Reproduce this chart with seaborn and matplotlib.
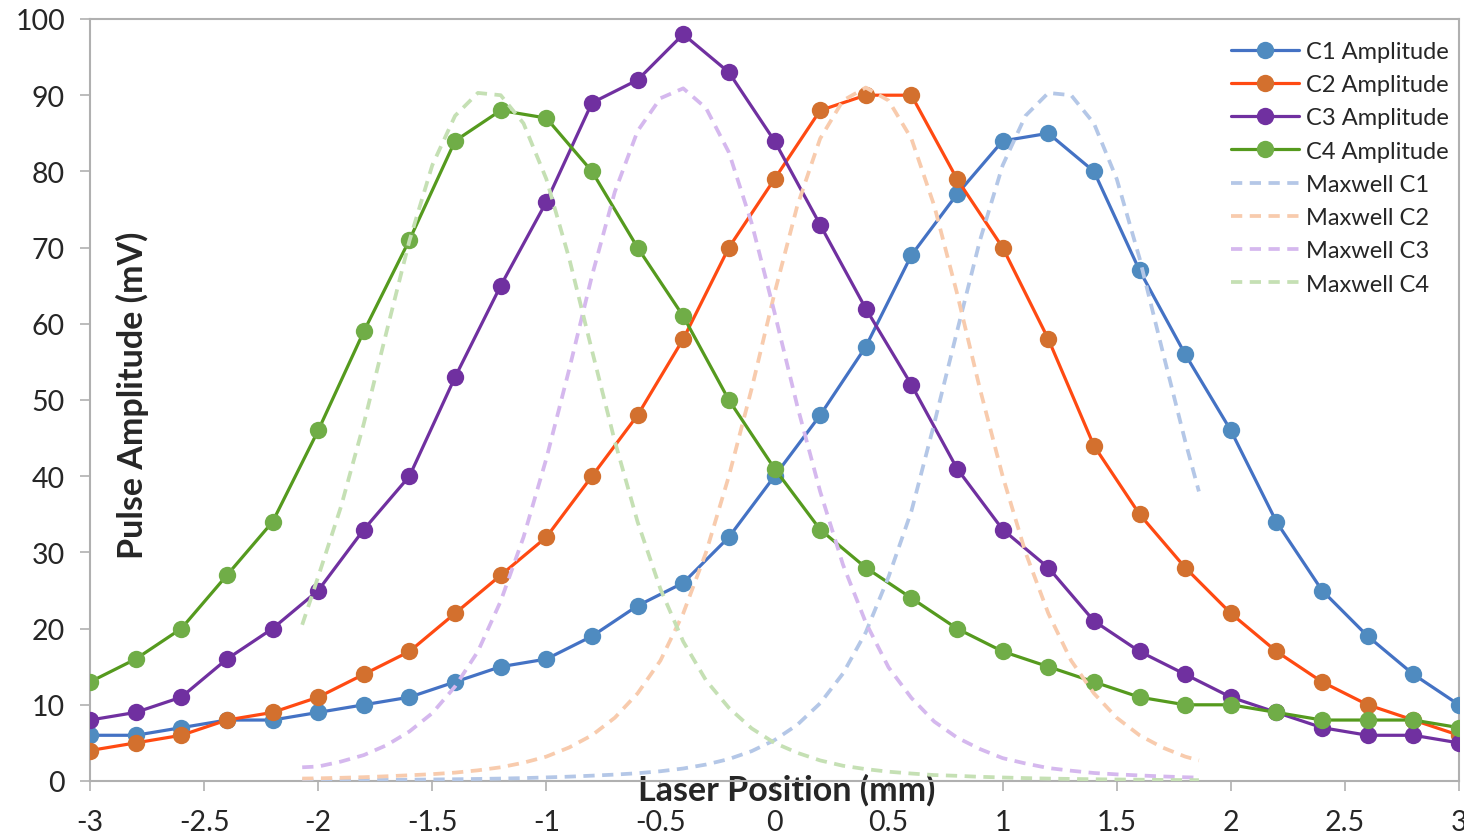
import numpy as np
import pandas as pd
import matplotlib
matplotlib.use('Agg')
import matplotlib.pyplot as plt
import seaborn as sns
from matplotlib.ticker import FuncFormatter, MultipleLocator

sns.set_style('white')
plt.rcParams['font.family'] = ['Lato', 'DejaVu Sans']
plt.rcParams['axes.unicode_minus'] = False

# ---- measured amplitudes, laser position -3..3 mm in 0.2 mm steps ----
pos = [-3.0, -2.8, -2.6, -2.4, -2.2, -2.0, -1.8, -1.6, -1.4, -1.2, -1.0,
       -0.8, -0.6, -0.4, -0.2, 0.0, 0.2, 0.4, 0.6, 0.8, 1.0,
       1.2, 1.4, 1.6, 1.8, 2.0, 2.2, 2.4, 2.6, 2.8, 3.0]
c1_amp = [6, 6, 7, 8, 8, 9, 10, 11, 13, 15, 16, 19, 23, 26, 32, 40,
          48, 57, 69, 77, 84, 85, 80, 67, 56, 46, 34, 25, 19, 14, 10]
c2_amp = [4, 5, 6, 8, 9, 11, 14, 17, 22, 27, 32, 40, 48, 58, 70, 79,
          88, 90, 90, 79, 70, 58, 44, 35, 28, 22, 17, 13, 10, 8, 6]
c3_amp = [8, 9, 11, 16, 20, 25, 33, 40, 53, 65, 76, 89, 92, 98, 93, 84,
          73, 62, 52, 41, 33, 28, 21, 17, 14, 11, 9, 7, 6, 6, 5]
c4_amp = [13, 16, 20, 27, 34, 46, 59, 71, 84, 88, 87, 80, 70, 61, 50, 41,
          33, 28, 24, 20, 17, 15, 13, 11, 10, 10, 9, 8, 8, 8, 7]

# ---- Maxwell model curves ----
mx_pos = [-2.07, -2.0, -1.9, -1.8, -1.7, -1.6, -1.5, -1.4, -1.3, -1.2, -1.1,
          -1.0, -0.9, -0.8, -0.7, -0.6, -0.5, -0.4, -0.3, -0.2, -0.1,
          0.0, 0.1, 0.2, 0.3, 0.4, 0.5, 0.6, 0.7, 0.8, 0.9,
          1.0, 1.1, 1.2, 1.3, 1.4, 1.5, 1.6, 1.7, 1.8, 1.86]
mx_c1 = [0.09, 0.1, 0.11, 0.12, 0.14, 0.17, 0.2, 0.23, 0.27, 0.32, 0.38,
         0.47, 0.57, 0.7, 0.84, 1.02, 1.28, 1.64, 2.16, 2.88, 3.92,
         5.36, 7.38, 10.2, 14.1, 19.5, 26.8, 35.4, 46.9, 59.0, 70.9,
         80.8, 87.3, 90.3, 90.0, 86.3, 79.0, 68.6, 56.5, 44.6, 38.0]
mx_c2 = [0.32, 0.35, 0.42, 0.5, 0.62, 0.75, 0.9, 1.1, 1.4, 1.8, 2.4,
         3.2, 4.4, 6.0, 8.3, 11.5, 15.8, 22.0, 30.0, 40.0, 51.5,
         64.0, 75.5, 84.3, 89.3, 91.0, 89.3, 84.3, 75.5, 64.0, 51.5,
         40.0, 30.0, 22.0, 15.8, 11.5, 8.3, 6.0, 4.4, 3.2, 2.7]
mx_c3 = [1.8, 1.9, 2.55, 3.4, 4.7, 6.5, 8.9, 12.4, 17.0, 23.6, 32.0,
         42.3, 54.0, 66.3, 77.3, 85.3, 89.6, 90.9, 88.3, 82.5, 73.2,
         61.5, 49.2, 38.0, 28.4, 20.8, 14.9, 10.9, 7.8, 5.7, 4.2,
         3.0, 2.3, 1.7, 1.35, 1.05, 0.87, 0.73, 0.6, 0.49, 0.45]
mx_c4 = [20.5, 26.8, 36.0, 46.9, 59.0, 70.9, 80.8, 87.3, 90.3, 90.0, 86.3,
         79.0, 68.6, 56.5, 44.6, 34.0, 25.2, 18.3, 13.2, 9.6, 6.9,
         5.0, 3.7, 2.7, 2.0, 1.56, 1.22, 0.98, 0.78, 0.68, 0.55,
         0.46, 0.38, 0.32, 0.27, 0.23, 0.2, 0.17, 0.14, 0.12, 0.11]

names = ['C1 Amplitude', 'C2 Amplitude', 'C3 Amplitude', 'C4 Amplitude']
line_cols = ['#4472C4', '#FF4A12', '#7030A0', '#559A1E']
mark_cols = ['#4F8BC0', '#D3702E', '#7030A0', '#70AD47']
mx_names = ['Maxwell C1', 'Maxwell C2', 'Maxwell C3', 'Maxwell C4']
mx_cols = ['#B4C7E7', '#F8CBAD', '#D5B8EE', '#C5E0B4']

df = pd.DataFrame({'pos': pos, 'C1': c1_amp, 'C2': c2_amp, 'C3': c3_amp, 'C4': c4_amp})
mx = pd.DataFrame({'pos': mx_pos, 'C1': mx_c1, 'C2': mx_c2, 'C3': mx_c3, 'C4': mx_c4})

fig = plt.figure(figsize=(14.64, 8.37), dpi=100)
ax = fig.add_axes([90 / 1464, 1 - 782 / 837, 1369 / 1464, 762 / 837])

for i, col in enumerate(['C1', 'C2', 'C3', 'C4']):
    sns.lineplot(data=df, x='pos', y=col, ax=ax, color=line_cols[i], linewidth=2.3,
                 marker='o', markersize=12.5, markerfacecolor=mark_cols[i],
                 markeredgewidth=0, label=names[i], sort=False, zorder=3 + i)
for i, col in enumerate(['C1', 'C2', 'C3', 'C4']):
    sns.lineplot(data=mx, x='pos', y=col, ax=ax, color=mx_cols[i], linewidth=2.7,
                 linestyle=(0, (3.0, 2.0)), label=mx_names[i], sort=False, zorder=8)

ax.set_xlim(-3, 3)
ax.set_ylim(0, 100)
ax.xaxis.set_major_locator(MultipleLocator(0.5))
ax.yaxis.set_major_locator(MultipleLocator(10))
ax.xaxis.set_major_formatter(FuncFormatter(lambda v, p: f'{v:g}'))
ax.tick_params(axis='both', which='major', labelsize=20.5, length=7, width=1.2,
               color='#B0B0B0', direction='out', bottom=True, left=True)
ax.tick_params(axis='x', pad=13)
ax.tick_params(axis='y', pad=11)
for s in ax.spines.values():
    s.set_color('#B0B0B0')
    s.set_linewidth(1.5)

ax.set_xlabel('Laser Position (mm)', fontsize=24.5, fontweight='bold')
ax.xaxis.set_label_coords(0.509, -0.011)
ax.xaxis.label.set_va('center')
ax.set_ylabel('Pulse Amplitude (mV)', fontsize=24.5, fontweight='bold')
ax.yaxis.set_label_coords(0.031, 0.508)
ax.yaxis.label.set_va('center')

leg = ax.legend(loc='upper right', bbox_to_anchor=(1.003, 0.99), frameon=False,
                fontsize=17, handlelength=2.9, handletextpad=0.3,
                labelspacing=0.52, borderaxespad=0.2)

fig.savefig('out.png', dpi=100)
